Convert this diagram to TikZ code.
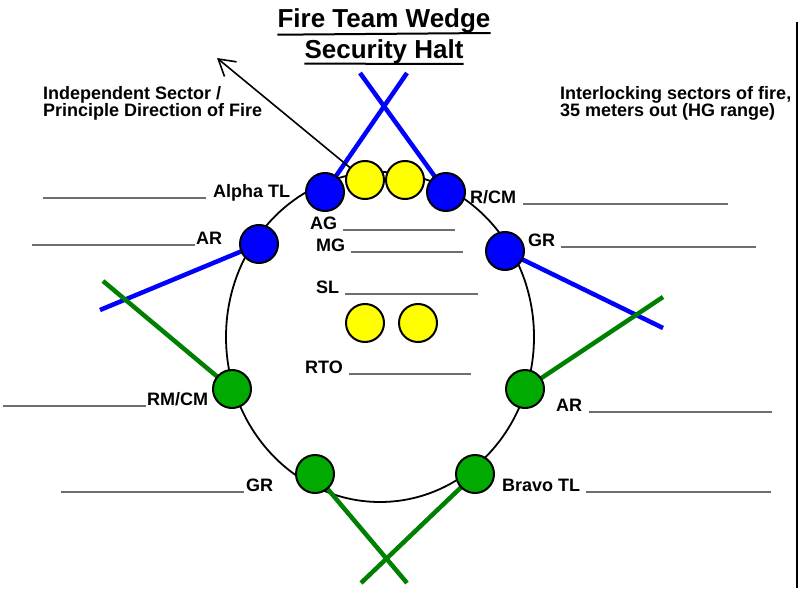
\documentclass[tikz,border=0pt]{standalone}
\usepackage{fontspec}
\setmainfont{Liberation Sans}
\usepackage{tikz}
\usetikzlibrary{arrows.meta}

\definecolor{teamblue}{RGB}{0,0,255}
\definecolor{teamyellow}{RGB}{255,255,0}
\definecolor{teamgreen}{RGB}{0,170,0}
\definecolor{sectorgreen}{RGB}{0,128,0}
\definecolor{blankgray}{RGB}{110,110,110}

% blank line to write a name on
\newcommand{\blank}[1]{\textcolor{blankgray}{\rule[-1.5pt]{#1pt}{1.4pt}}}

\begin{document}
\begin{tikzpicture}
			[
			x=1pt,y=-1pt,
			font=\fontsize{18}{17}\selectfont\bfseries
			]
			
			% Node styles: one for each colour of soldier
			\tikzstyle{blue node}=[circle,draw,line width=2pt,fill=teamblue,minimum size=38pt,inner sep=0];
			\tikzstyle{yellow node}=[circle,draw,line width=2pt,fill=teamyellow,minimum size=38pt,inner sep=0];
			\tikzstyle{green node}=[circle,draw,line width=2pt,fill=teamgreen,minimum size=38pt,inner sep=0];
			
			% Line styles for the sectors of fire
			\tikzstyle{blue sector}=[draw=teamblue,line width=4.5pt];
			\tikzstyle{green sector}=[draw=sectorgreen,line width=4.5pt];
			\tikzstyle{lbl}=[inner sep=0,anchor=base west];
			
			\useasboundingbox (0,0) rectangle (808,591);
			
			% Title
			\node[inner sep=0,anchor=base,font=\fontsize{26}{28}\selectfont\bfseries](title1)at(384,28){Fire Team Wedge};
			\node[inner sep=0,anchor=base,font=\fontsize{26}{28}\selectfont\bfseries](title2)at(384,59){Security Halt};
			\draw[line width=2pt](title1.south west)++(0,1)--(title1.south east|-0,33);
			\draw[line width=2pt](title2.south west)++(0,-1)--(title2.south east|-0,64);
			
			% Positions of the soldiers
			\coordinate(alpha)at(325,192);
			\coordinate(rcm)at(446,192);
			\coordinate(arA)at(259,244);
			\coordinate(grA)at(505,251);
			\coordinate(ag)at(365,180);
			\coordinate(mg)at(405,180);
			\coordinate(sl)at(365,323);
			\coordinate(rto)at(418,323);
			\coordinate(rmcm)at(232,389);
			\coordinate(arB)at(525,389);
			\coordinate(grB)at(315,474);
			\coordinate(bravo)at(475,474);
			
			% Ends of the sectors of fire
			\coordinate(alpha end)at(407,73);
			\coordinate(rcm end)at(360,73);
			\coordinate(arA end)at(100,310);
			\coordinate(rmcm end)at(103,281);
			\coordinate(grA end)at(663,328);
			\coordinate(arB end)at(663,297);
			\coordinate(grB end)at(407,583);
			\coordinate(bravo end)at(361,583);
			\coordinate(dir tip)at(217,58);
			
			% The perimeter
			\draw[line width=1.8pt](380,337)ellipse[x radius=154pt,y radius=165pt];
			
			% Sectors of fire
			\draw[blue sector](alpha)--(alpha end);
			\draw[blue sector](rcm)--(rcm end);
			\draw[blue sector](arA)--(arA end);
			\draw[blue sector](grA)--(grA end);
			\draw[green sector](rmcm)--(rmcm end);
			\draw[green sector](arB)--(arB end);
			\draw[green sector](grB)--(grB end);
			\draw[green sector](bravo)--(bravo end);
			
			% Principle direction of fire
			\draw[line width=1.6pt,-{Straight Barb[length=16pt,width=19pt,line width=1.6pt]}](ag)--(dir tip);
			
			% Soldiers
			\foreach \x in {alpha, rcm, arA, grA} \node[blue node](\x node)at(\x){};
			\foreach \x in {ag, mg, sl, rto} \node[yellow node](\x node)at(\x){};
			\foreach \x in {rmcm, arB, grB, bravo} \node[green node](\x node)at(\x){};
			
			% Notes
			\node[lbl,align=left](note left)at(43,117){Independent Sector /\\Principle Direction of Fire};
			\node[lbl,align=left](note right)at(560,117){Interlocking sectors of fire,\\35 meters out (HG range)};
			
			% Names, left side
			\node[lbl](alpha lbl)at(43,197){\blank{163}\hspace{7pt}Alpha TL};
			\node[lbl](arA lbl)at(32,244){\blank{163}\hspace{1pt}AR};
			\node[lbl](rmcm lbl)at(3,405){\blank{143}\hspace{1pt}RM/CM};
			\node[lbl](grB lbl)at(61,491){\blank{183}\hspace{2pt}GR};
			
			% Names, right side
			\node[lbl](rcm lbl)at(470,203){R/CM\hspace{7pt}\blank{205}};
			\node[lbl](grA lbl)at(528,246){GR\hspace{6pt}\blank{195}};
			\node[lbl](arB lbl)at(556,411){AR\hspace{7pt}\blank{183}};
			\node[lbl](bravo lbl)at(502,491){Bravo TL\hspace{6pt}\blank{185}};
			
			% Names, inside the perimeter
			\node[lbl](ag lbl)at(310,229){AG\hspace{6pt}\blank{112}};
			\node[lbl](mg lbl)at(316,251){MG\hspace{6pt}\blank{112}};
			\node[lbl](sl lbl)at(316,293){SL\hspace{6pt}\blank{133}};
			\node[lbl](rto lbl)at(305,373){RTO\hspace{6pt}\blank{122}};
			
			% Border of the page
			\draw[line width=1.3pt](797,22)--(797,588);
			\end{tikzpicture}
\end{document}
